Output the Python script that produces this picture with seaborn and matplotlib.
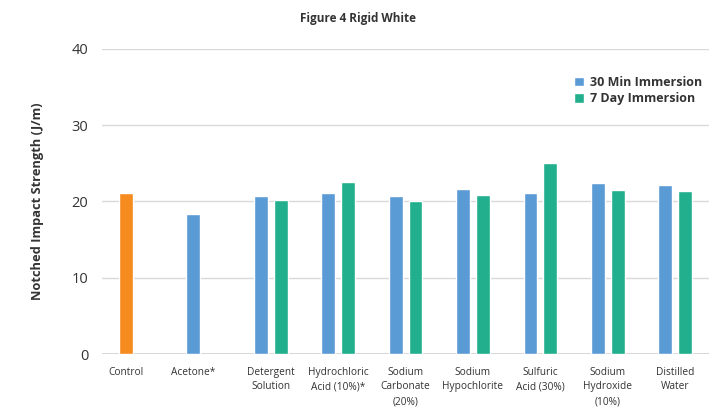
import numpy as np
import pandas as pd
import matplotlib
matplotlib.use("Agg")
import matplotlib.pyplot as plt
import seaborn as sns

# data
categories = ["Control", "Acetone*", "Detergent\nSolution", "Hydrochloric\nAcid (10%)*",
              "Sodium\nCarbonate\n(20%)", "Sodium\nHypochlorite", "Sulfuric\nAcid (30%)",
              "Sodium\nHydroxide\n(10%)", "Distilled\nWater"]
min30 = [21.1, 18.4, 20.7, 21.1, 20.7, 21.6, 21.1, 22.4, 22.2]
day7 = [np.nan, np.nan, 20.2, 22.6, 20.1, 20.9, 25.0, 21.5, 21.4]
series = ["30 Min Immersion", "7 Day Immersion"]
yticks = [0, 10, 20, 30, 40]

blue = "#5b9bd5"
green = "#21af8e"
orange = "#f68b1f"
text_col = "#333333"

df = pd.DataFrame({
    "cat": categories * 2,
    "series": [series[0]] * len(categories) + [series[1]] * len(categories),
    "value": min30 + day7,
})

sns.set_style("white")
plt.rcParams["font.family"] = ["Open Sans", "DejaVu Sans"]

fig = plt.figure(figsize=(7.15, 4.12), dpi=100)
ax = fig.add_axes([0.1427, 0.14, 0.849, 0.742])

sns.barplot(data=df, x="cat", y="value", hue="series", order=categories,
            hue_order=series, palette=[blue, green], width=0.59, gap=0.3,
            saturation=1, ax=ax, legend=True)

# control bar is drawn in orange
for p in ax.patches:
    if abs(p.get_x() + p.get_width() / 2 - (0 - 0.1475)) < 0.05 and p.get_height() > 0:
        p.set_facecolor(orange)

ax.set_ylim(0, 40)
ax.set_xlim(-0.5, 8.5)
ax.set_yticks(yticks)
ax.set_yticklabels([str(t) for t in yticks], fontsize=10.5, color=text_col)
ax.yaxis.grid(True, color="#d9d9d9", linewidth=1)
ax.set_axisbelow(True)
for s in ax.spines.values():
    s.set_visible(False)
ax.axhline(0, color="#d0d0d0", linewidth=1.2, zorder=0)
ax.tick_params(axis="both", length=0)
ax.tick_params(axis="y", pad=10)

ticks_pos = [-0.1475, 0.8525] + list(range(2, 9))
ax.set_xticks(ticks_pos)
ax.set_xticklabels(categories, fontsize=7.3, color=text_col, linespacing=1.45)
ax.tick_params(axis="x", pad=9)
ax.set_xlabel("")
ax.set_ylabel("Notched Impact Strength (J/m)", fontsize=9.3, fontweight="bold",
              color=text_col)
ax.yaxis.set_label_coords(-0.0955, 0.5)

fig.text(0.5, 0.955, "Figure 4 Rigid White", ha="center", va="center",
         fontsize=8.5, fontweight="bold", color=text_col)

leg = ax.legend(loc="upper left", bbox_to_anchor=(568 / 715, 1 - 70 / 412),
                bbox_transform=fig.transFigure, frameon=False, fontsize=9,
                handlelength=0.75, handleheight=0.75, handletextpad=0.5,
                labelspacing=0.25, borderpad=0)
for t in leg.get_texts():
    t.set_fontweight("bold")
    t.set_color(text_col)

fig.savefig("out.png", dpi=100)
